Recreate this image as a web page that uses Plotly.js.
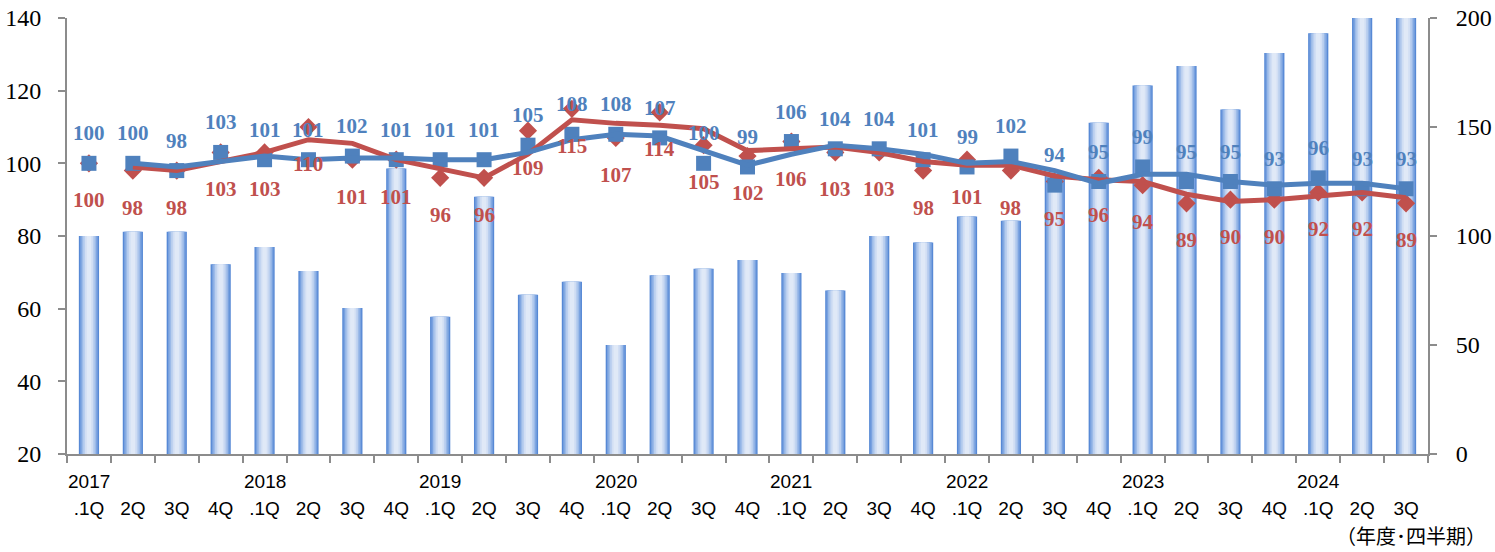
<!DOCTYPE html>
<html>
<head>
<meta charset="utf-8">
<script src="https://cdn.plot.ly/plotly-3.0.1.min.js"></script>
<style>
  html, body { margin: 0; padding: 0; background: #fff; }
  #chart { width: 1495px; height: 552px; }
</style>
</head>
<body>
<div id="chart"></div>
<script>
// ---- Data ----
const periods = [
  '2017.1Q','2017.2Q','2017.3Q','2017.4Q',
  '2018.1Q','2018.2Q','2018.3Q','2018.4Q',
  '2019.1Q','2019.2Q','2019.3Q','2019.4Q',
  '2020.1Q','2020.2Q','2020.3Q','2020.4Q',
  '2021.1Q','2021.2Q','2021.3Q','2021.4Q',
  '2022.1Q','2022.2Q','2022.3Q','2022.4Q',
  '2023.1Q','2023.2Q','2023.3Q','2023.4Q',
  '2024.1Q','2024.2Q','2024.3Q'
];
const quarterLabels = [
  '.1Q','2Q','3Q','4Q', '.1Q','2Q','3Q','4Q', '.1Q','2Q','3Q','4Q',
  '.1Q','2Q','3Q','4Q', '.1Q','2Q','3Q','4Q', '.1Q','2Q','3Q','4Q',
  '.1Q','2Q','3Q','4Q', '.1Q','2Q','3Q'
];
const yearLabels = ['2017','2018','2019','2020','2021','2022','2023','2024'];
const yearPeriods = ['2017.1Q','2018.1Q','2019.1Q','2020.1Q','2021.1Q','2022.1Q','2023.1Q','2024.1Q'];

// bars (right axis, 0-200)
const barValues = [100,102,102,87,95,84,67,131,63,118,73,79,50,82,85,89,83,75,100,97,109,107,129,152,169,178,158,184,193,205,205];

// blue series (squares, left axis)
const blueValues = [100,100,98,103,101,101,102,101,101,101,105,108,108,107,100,99,106,104,104,101,99,102,94,95,99,95,95,93,96,93,93];
// red series (diamonds, left axis)
const redValues = [100,98,98,103,103,110,101,101,96,96,109,115,107,114,105,102,106,103,103,98,101,98,95,96,94,89,90,90,92,92,89];

// thick trend lines
const blueTrend = [null,100,99,100.5,102,101,101.5,101.5,101,101,103,106.5,108,107.5,103.5,99.5,102.5,105,104,102.5,100,100.5,98,94.5,97,97,95,94,94.5,94.5,93];
const redTrend  = [null,99,98,100.5,103,106.5,105.5,101,98.5,96,102.5,112,111,110.5,109.5,103.5,104,104.5,103,100.5,99.5,99.5,96.5,95.5,95,91.5,89.5,90,91,92,90.5];

const unitLabel = '（年度･四半期）';

// ---- Styles ----
const BLUE = '#4f81bd';
const RED = '#c0504d';
const AXIS = '#8c8c8c';

// gradient bars approximated by overlaid bars of decreasing width
const barLayers = [
  {w: 0.46, c: '#5789d5'},
  {w: 0.40, c: '#78a1df'},
  {w: 0.33, c: '#9bbae8'},
  {w: 0.26, c: '#bacfef'},
  {w: 0.18, c: '#d2dff4'},
  {w: 0.10, c: '#e0e9f7'}
];

const traces = [];
barLayers.forEach(l => {
  traces.push({
    type: 'bar', x: periods, y: barValues, yaxis: 'y',
    width: l.w, marker: {color: l.c, line: {width: 0}},
    hoverinfo: 'skip', showlegend: false
  });
});

traces.push({
  type: 'scatter', mode: 'markers', x: periods, y: redValues, yaxis: 'y2',
  marker: {symbol: 'diamond', size: 14, color: RED}, showlegend: false
});
traces.push({
  type: 'scatter', mode: 'markers', x: periods, y: blueValues, yaxis: 'y2',
  marker: {symbol: 'square', size: 15, color: BLUE}, showlegend: false
});
traces.push({
  type: 'scatter', mode: 'lines', x: periods, y: redTrend, yaxis: 'y2',
  line: {color: RED, width: 5}, connectgaps: false, showlegend: false
});
traces.push({
  type: 'scatter', mode: 'lines', x: periods, y: blueTrend, yaxis: 'y2',
  line: {color: BLUE, width: 5}, connectgaps: false, showlegend: false
});

const annotations = [];
const labelFont = (c) => ({family: 'Liberation Serif, Times New Roman, serif', size: 21, color: c});
periods.forEach((p, i) => {
  annotations.push({
    x: p, y: blueValues[i], xref: 'x', yref: 'y2', yshift: 30,
    text: '<b>' + blueValues[i] + '</b>', showarrow: false, font: labelFont(BLUE)
  });
  annotations.push({
    x: p, y: redValues[i], xref: 'x', yref: 'y2', yshift: -37,
    text: '<b>' + redValues[i] + '</b>', showarrow: false, font: labelFont(RED)
  });
});
yearPeriods.forEach((p, i) => {
  annotations.push({
    x: p, y: 0, xref: 'x', yref: 'paper', yshift: -27, yanchor: 'middle',
    text: yearLabels[i], showarrow: false,
    font: {family: 'Liberation Sans, Arial, sans-serif', size: 19, color: '#000'}
  });
});
annotations.push({
  x: 1.044, y: -0.186, xref: 'paper', yref: 'paper', xanchor: 'right', yanchor: 'middle',
  text: unitLabel, showarrow: false,
  font: {family: 'Noto Sans CJK JP, sans-serif', size: 20, color: '#000'}
});

const layout = {
  width: 1495, height: 552,
  margin: {l: 67, r: 67, t: 18, b: 98, pad: 0},
  paper_bgcolor: '#fff', plot_bgcolor: 'rgba(0,0,0,0)',
  barmode: 'overlay',
  showlegend: false,
  xaxis: {
    type: 'category',
    tickmode: 'array', tickvals: periods, ticktext: quarterLabels,
    tickson: 'boundaries',
    ticks: 'outside', ticklen: 7, tickwidth: 2, tickcolor: AXIS,
    showline: true, linecolor: AXIS, linewidth: 2,
    showgrid: false, zeroline: false,
    ticklabelstandoff: 36,
    tickfont: {family: 'Liberation Sans, Arial, sans-serif', size: 19, color: '#000'},
    range: [-0.5, 30.5]
  },
  yaxis: {
    side: 'right', range: [0, 200], tickvals: [0, 50, 100, 150, 200],
    ticks: 'outside', ticklen: 7, tickwidth: 2, tickcolor: AXIS,
    showline: true, linecolor: AXIS, linewidth: 2,
    showgrid: false, zeroline: false,
    ticklabelstandoff: 14,
    tickfont: {family: 'Liberation Serif, Times New Roman, serif', size: 24, color: '#000'}
  },
  yaxis2: {
    overlaying: 'y', side: 'left', range: [20, 140], tickvals: [20, 40, 60, 80, 100, 120, 140],
    ticks: 'outside', ticklen: 7, tickwidth: 2, tickcolor: AXIS,
    showline: true, linecolor: AXIS, linewidth: 2,
    showgrid: false, zeroline: false,
    ticklabelstandoff: 12,
    tickfont: {family: 'Liberation Serif, Times New Roman, serif', size: 24, color: '#000'}
  },
  annotations: annotations
};

Plotly.newPlot('chart', traces, layout, {staticPlot: true, displayModeBar: false});
</script>
</body>
</html>
